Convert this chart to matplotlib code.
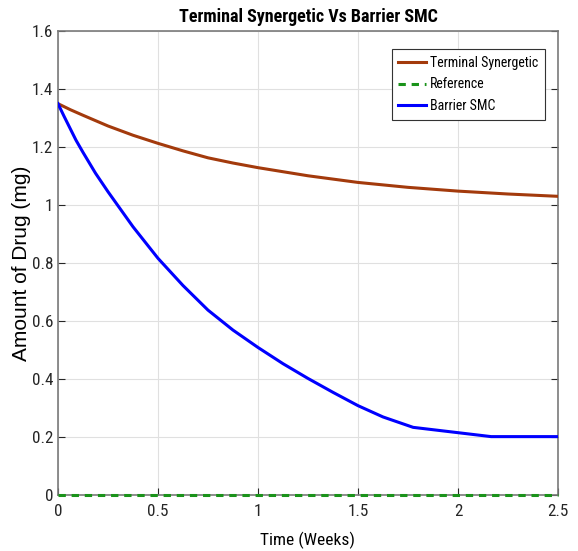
import matplotlib
matplotlib.use("Agg")
import matplotlib.pyplot as plt

narrow = ['Roboto Condensed', 'Liberation Sans Narrow', 'Liberation Sans', 'DejaVu Sans']
plt.rcParams['font.family'] = narrow

t_term = [0, 0.0625, 0.125, 0.25, 0.375, 0.5, 0.625, 0.75, 0.875, 1.0, 1.25, 1.5, 1.75, 2.0, 2.25, 2.5]
y_term = [1.35, 1.329, 1.31, 1.273, 1.241, 1.213, 1.187, 1.163, 1.145, 1.129, 1.101, 1.078, 1.061, 1.048, 1.038, 1.030]

t_ref = [0, 2.5]
y_ref = [0, 0]

t_bar = [0, 0.03, 0.0625, 0.09, 0.125, 0.1875, 0.25, 0.375, 0.5, 0.625, 0.75, 0.875, 1.0, 1.125, 1.25, 1.375, 1.5, 1.625, 1.776, 2.166, 2.5]
y_bar = [1.35, 1.307, 1.262, 1.224, 1.182, 1.11, 1.046, 0.925, 0.816, 0.722, 0.637, 0.568, 0.508, 0.452, 0.401, 0.353, 0.307, 0.268, 0.232, 0.2, 0.2]

xticks = [0, 0.5, 1, 1.5, 2, 2.5]
xtick_labels = ['0', '0.5', '1', '1.5', '2', '2.5']
yticks = [0, 0.2, 0.4, 0.6, 0.8, 1, 1.2, 1.4, 1.6]
ytick_labels = ['0', '0.2', '0.4', '0.6', '0.8', '1', '1.2', '1.4', '1.6']

fig = plt.figure(figsize=(5.78, 5.51), dpi=100)
ax = fig.add_axes([0.1003, 0.1025, 0.865, 0.8407])

ax.plot(t_term, y_term, color='#A33A0C', lw=2.2, label='Terminal Synergetic', zorder=3)
ax.plot(t_ref, y_ref, color='#1A931A', lw=2.2, ls=(0, (2.4, 1.9)), label='Reference', zorder=4, clip_on=False)
ax.plot(t_bar, y_bar, color='#0000FF', lw=2.2, label='Barrier SMC', zorder=3)

ax.set_xlim(0, 2.5)
ax.set_ylim(0, 1.6)
ax.set_xticks(xticks)
ax.set_xticklabels(xtick_labels)
ax.set_yticks(yticks)
ax.set_yticklabels(ytick_labels)
ax.tick_params(direction='in', length=5, width=0.8, colors='#262626', labelsize=12.3,
               top=False, right=True, pad=3.5)
ax.tick_params(axis='x', pad=7)
ax.grid(True, color='#E0E0E0', lw=0.8)
ax.set_axisbelow(True)
for sp in ax.spines.values():
    sp.set_color('#7A7A7A')
    sp.set_linewidth(1.2)

ax.set_title('Terminal Synergetic Vs Barrier SMC', fontsize=13, fontweight='bold', pad=7)
ax.set_xlabel('Time (Weeks)', fontsize=12.5)
ax.xaxis.set_label_coords(0.5, -0.08)
ax.set_ylabel('Amount of Drug (mg)', fontsize=15, family=['Liberation Sans', 'DejaVu Sans'])
ax.yaxis.set_label_coords(-0.053, 0.5)

leg = ax.legend(loc='upper right', bbox_to_anchor=(0.974, 0.962), fontsize=10, fancybox=False,
                framealpha=1, edgecolor='#333333', handlelength=2.0, borderpad=0.5,
                labelspacing=0.55, handletextpad=0.25, borderaxespad=0)
leg.get_frame().set_linewidth(0.8)

fig.savefig('out.png', dpi=100)
